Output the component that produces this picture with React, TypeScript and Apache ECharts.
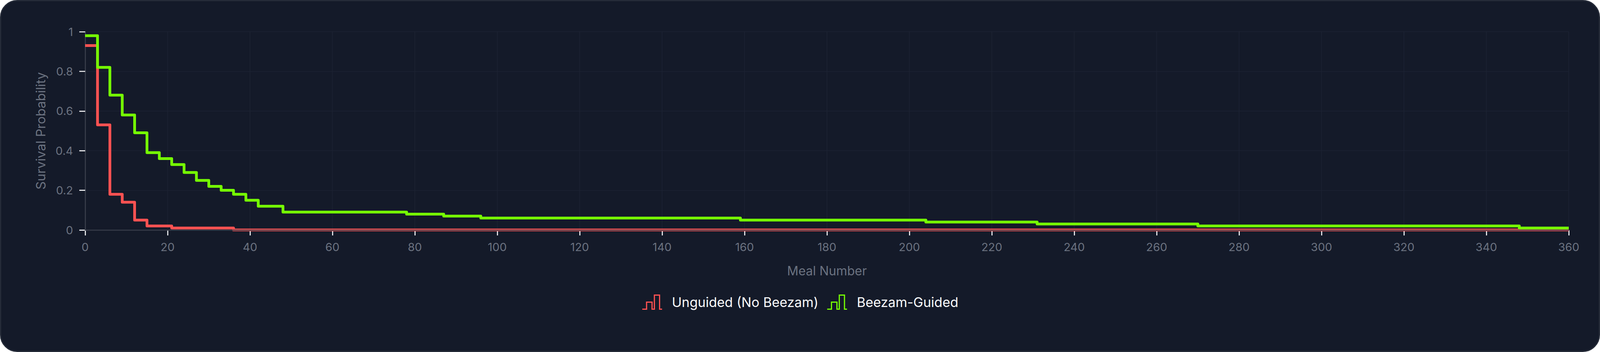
import React, { useEffect, useRef } from 'react';
import * as echarts from 'echarts';

// Kaplan-Meier style survival curves
const unguidedMeals = [0, 3, 6, 9, 12, 15, 21, 36, 360];
const unguidedSurvival = [0.93, 0.53, 0.18, 0.14, 0.05, 0.02, 0.01, 0, 0];

const guidedMeals = [0, 3, 6, 9, 12, 15, 18, 21, 24, 27, 30, 33, 36, 39, 42, 48, 78, 87, 96, 159, 204, 231, 270, 348, 360];
const guidedSurvival = [0.98, 0.82, 0.68, 0.58, 0.49, 0.39, 0.36, 0.33, 0.29, 0.25, 0.22, 0.2, 0.18, 0.15, 0.12, 0.09, 0.08, 0.07, 0.06, 0.05, 0.04, 0.03, 0.02, 0.01, 0.01];

const seriesNames = ['Unguided (No Beezam)', 'Beezam-Guided'];
const seriesColors = ['#ff5252', '#76ff03'];

const FONT = 'Inter, "Noto Sans", sans-serif';
const LABEL_COLOR = '#6b7280';
const AXIS_COLOR = '#383d4a';
const TICK_COLOR = '#f3f4f6';
const GRID_COLOR = '#1d2333';

// little step glyph used for the legend
const STEP_ICON = 'path://M0 36 H11 V18 H25 V36 H31 V0 H44.3 V36 H50.7';

// no page margin / scrollbars, the card fills the window
document.documentElement.style.overflow = 'hidden';
document.body.style.margin = '0';
document.body.style.overflow = 'hidden';

const zip = (xs: number[], ys: number[]) => xs.map((x, i) => [x, ys[i]]);

const SurvivalChart: React.FC = () => {
  const chartRef = useRef<HTMLDivElement>(null);

  useEffect(() => {
    if (!chartRef.current) return;
    const chart = echarts.init(chartRef.current, undefined, { renderer: 'svg' });

    const curves = [zip(unguidedMeals, unguidedSurvival), zip(guidedMeals, guidedSurvival)];

    const option: echarts.EChartsOption = {
      animation: false,
      backgroundColor: 'transparent',
      grid: { left: 215, right: 77, top: 78, bottom: 309, containLabel: false },
      legend: {
        left: 'center',
        top: 745,
        itemWidth: 91,
        itemHeight: 36,
        itemGap: 21,
        symbolKeepAspect: true,
        textStyle: { color: '#f9fafb', fontSize: 34, fontFamily: FONT },
        data: seriesNames.map((name, i) => ({
          name,
          icon: STEP_ICON,
          itemStyle: { color: 'rgba(0,0,0,0)', borderColor: seriesColors[i], borderWidth: 3 },
        })),
      },
      xAxis: [
        {
          type: 'value',
          min: 0,
          max: 360,
          interval: 20,
          name: 'Meal Number',
          nameLocation: 'middle',
          nameGap: 88,
          nameTextStyle: { color: LABEL_COLOR, fontSize: 32, fontFamily: FONT },
          axisLine: { show: false },
          axisTick: { show: true, length: 14, lineStyle: { color: TICK_COLOR, width: 2.7 } },
          axisLabel: { color: LABEL_COLOR, fontSize: 29, fontFamily: FONT, margin: 29 },
          splitLine: { show: true, lineStyle: { color: GRID_COLOR, width: 1.5 } },
        },
        {
          // axis line drawn over the curves
          type: 'value',
          min: 0,
          max: 360,
          position: 'bottom',
          z: 5,
          axisLine: { show: true, onZero: false, lineStyle: { color: AXIS_COLOR, width: 2.7 } },
          axisTick: { show: false },
          axisLabel: { show: false },
          splitLine: { show: false },
        },
      ],
      yAxis: {
        type: 'value',
        min: 0,
        max: 1,
        interval: 0.2,
        name: 'Survival Probability',
        nameLocation: 'middle',
        nameGap: 98,
        nameTextStyle: { color: LABEL_COLOR, fontSize: 33, fontFamily: FONT },
        axisLine: { show: true, lineStyle: { color: AXIS_COLOR, width: 2.7 } },
        axisTick: { show: true, length: 15, lineStyle: { color: TICK_COLOR, width: 2.7 } },
        axisLabel: { color: LABEL_COLOR, fontSize: 29, fontFamily: FONT, margin: 31 },
        splitLine: { show: true, lineStyle: { color: GRID_COLOR, width: 1.5 } },
      },
      series: seriesNames.map((name, i) => ({
        name,
        type: 'line',
        step: 'end',
        data: curves[i],
        showSymbol: false,
        symbol: 'none',
        clip: true,
        z: i + 2,
        lineStyle: { color: seriesColors[i], width: 7, join: 'round', cap: 'butt' },
        itemStyle: { color: seriesColors[i] },
      })),
    };

    chart.setOption(option);

    return () => {
      chart.dispose();
    };
  }, []);

  return (
    <div
      style={{
        position: 'relative',
        width: '100%',
        height: 900,
        boxSizing: 'border-box',
        border: '3px solid #262c39',
        borderRadius: 44,
        background: '#141a29',
        overflow: 'hidden',
      }}
    >
      <div ref={chartRef} style={{ position: 'absolute', left: 0, top: 0, width: '100%', height: '100%' }} />
    </div>
  );
};

export default function App() {
  return <SurvivalChart />;
}
